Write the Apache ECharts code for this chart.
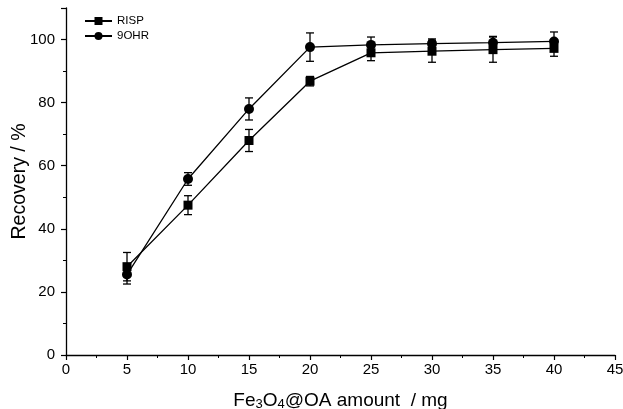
<!DOCTYPE html>
<html><head><meta charset="utf-8">
<script src="https://cdn.jsdelivr.net/npm/echarts@6/dist/echarts.min.js"></script>
<style>html,body{margin:0;padding:0;background:#fff}#c{width:623px;height:409px}</style>
</head><body><div id="c"></div>
<script>
const amounts = [5, 10, 15, 20, 25, 30, 35, 40];
const risp = [28.0, 47.5, 68.0, 86.8, 95.8, 96.3, 96.8, 97.2];
const rispErr = [4.5, 3.0, 3.5, 1.5, 2.5, 3.5, 4.0, 2.5];
const ohr = [25.5, 55.8, 78.0, 97.6, 98.3, 98.7, 99.0, 99.4];
const ohrErr = [3.0, 2.0, 3.5, 4.5, 2.5, 1.5, 2.0, 3.0];
const seriesNames = ['RISP', '9OHR'];

const chart = echarts.init(document.getElementById('c'));
function errData(vals, errs){ return amounts.map((x,i)=>[x, vals[i]-errs[i], vals[i]+errs[i]]); }
function errRender(params, api){
  const x = api.value(0);
  const lo = api.coord([x, api.value(1)]);
  const hi = api.coord([x, api.value(2)]);
  const w = 4;
  const st = {stroke:'#000', lineWidth:1.3};
  return {type:'group', children:[
    {type:'line', shape:{x1:lo[0],y1:lo[1],x2:hi[0],y2:hi[1]}, style:st},
    {type:'line', shape:{x1:lo[0]-w,y1:lo[1],x2:lo[0]+w,y2:lo[1]}, style:st},
    {type:'line', shape:{x1:hi[0]-w,y1:hi[1],x2:hi[0]+w,y2:hi[1]}, style:st}
  ]};
}
const FF = 'Liberation Sans, Arial';
const axisCommon = {
  axisLine:{show:true, lineStyle:{color:'#000', width:1.3}},
  axisTick:{show:true, inside:false, length:5, lineStyle:{color:'#000', width:1.2}},
  minorTick:{show:true, splitNumber:2, length:3, lineStyle:{color:'#000', width:1}},
  splitLine:{show:false}
};
chart.setOption({
  animation:false,
  backgroundColor:'#fff',
  grid:{left:66, right:8, top:8, bottom:54, containLabel:false, outerBoundsMode:'none'},
  legend:{
    left:84, top:15, orient:'vertical', itemGap:3, itemWidth:27, itemHeight:10, padding:0,
    data:seriesNames,
    textStyle:{color:'#000', fontSize:11.5, fontFamily:FF}
  },
  xAxis:Object.assign({
    type:'value', min:0, max:45, interval:5,
    axisLabel:{color:'#000', fontSize:15, fontFamily:FF, margin:7},
    name:'{n|Fe}{s|3}{n|O}{s|4}{n|@OA amount  / mg}',
    nameLocation:'middle', nameGap:36,
    nameTextStyle:{rich:{
      n:{fontSize:19, color:'#000', fontFamily:FF},
      s:{fontSize:13, color:'#000', fontFamily:FF, verticalAlign:'bottom', padding:[7,0,0,0]}
    }}
  }, axisCommon),
  yAxis:Object.assign({
    type:'value', min:0, max:110, interval:20,
    axisLabel:{color:'#000', fontSize:15, fontFamily:FF, margin:11, showMaxLabel:false},
    name:'Recovery / %', nameLocation:'middle', nameGap:36, nameMoveOverlap:false,
    nameTextStyle:{fontSize:19.5, color:'#000', fontFamily:FF}
  }, axisCommon),
  series:[
    {name:seriesNames[0], type:'line', data:amounts.map((x,i)=>[x,risp[i]]),
     symbol:'rect', symbolSize:9, itemStyle:{color:'#000'}, lineStyle:{color:'#000', width:1.3}, z:3},
    {name:seriesNames[1], type:'line', data:amounts.map((x,i)=>[x,ohr[i]]),
     symbol:'circle', symbolSize:10, itemStyle:{color:'#000'}, lineStyle:{color:'#000', width:1.3}, z:3},
    {type:'custom', renderItem:errRender, data:errData(risp, rispErr), z:2, silent:true},
    {type:'custom', renderItem:errRender, data:errData(ohr, ohrErr), z:2, silent:true}
  ]
});
</script></body></html>
